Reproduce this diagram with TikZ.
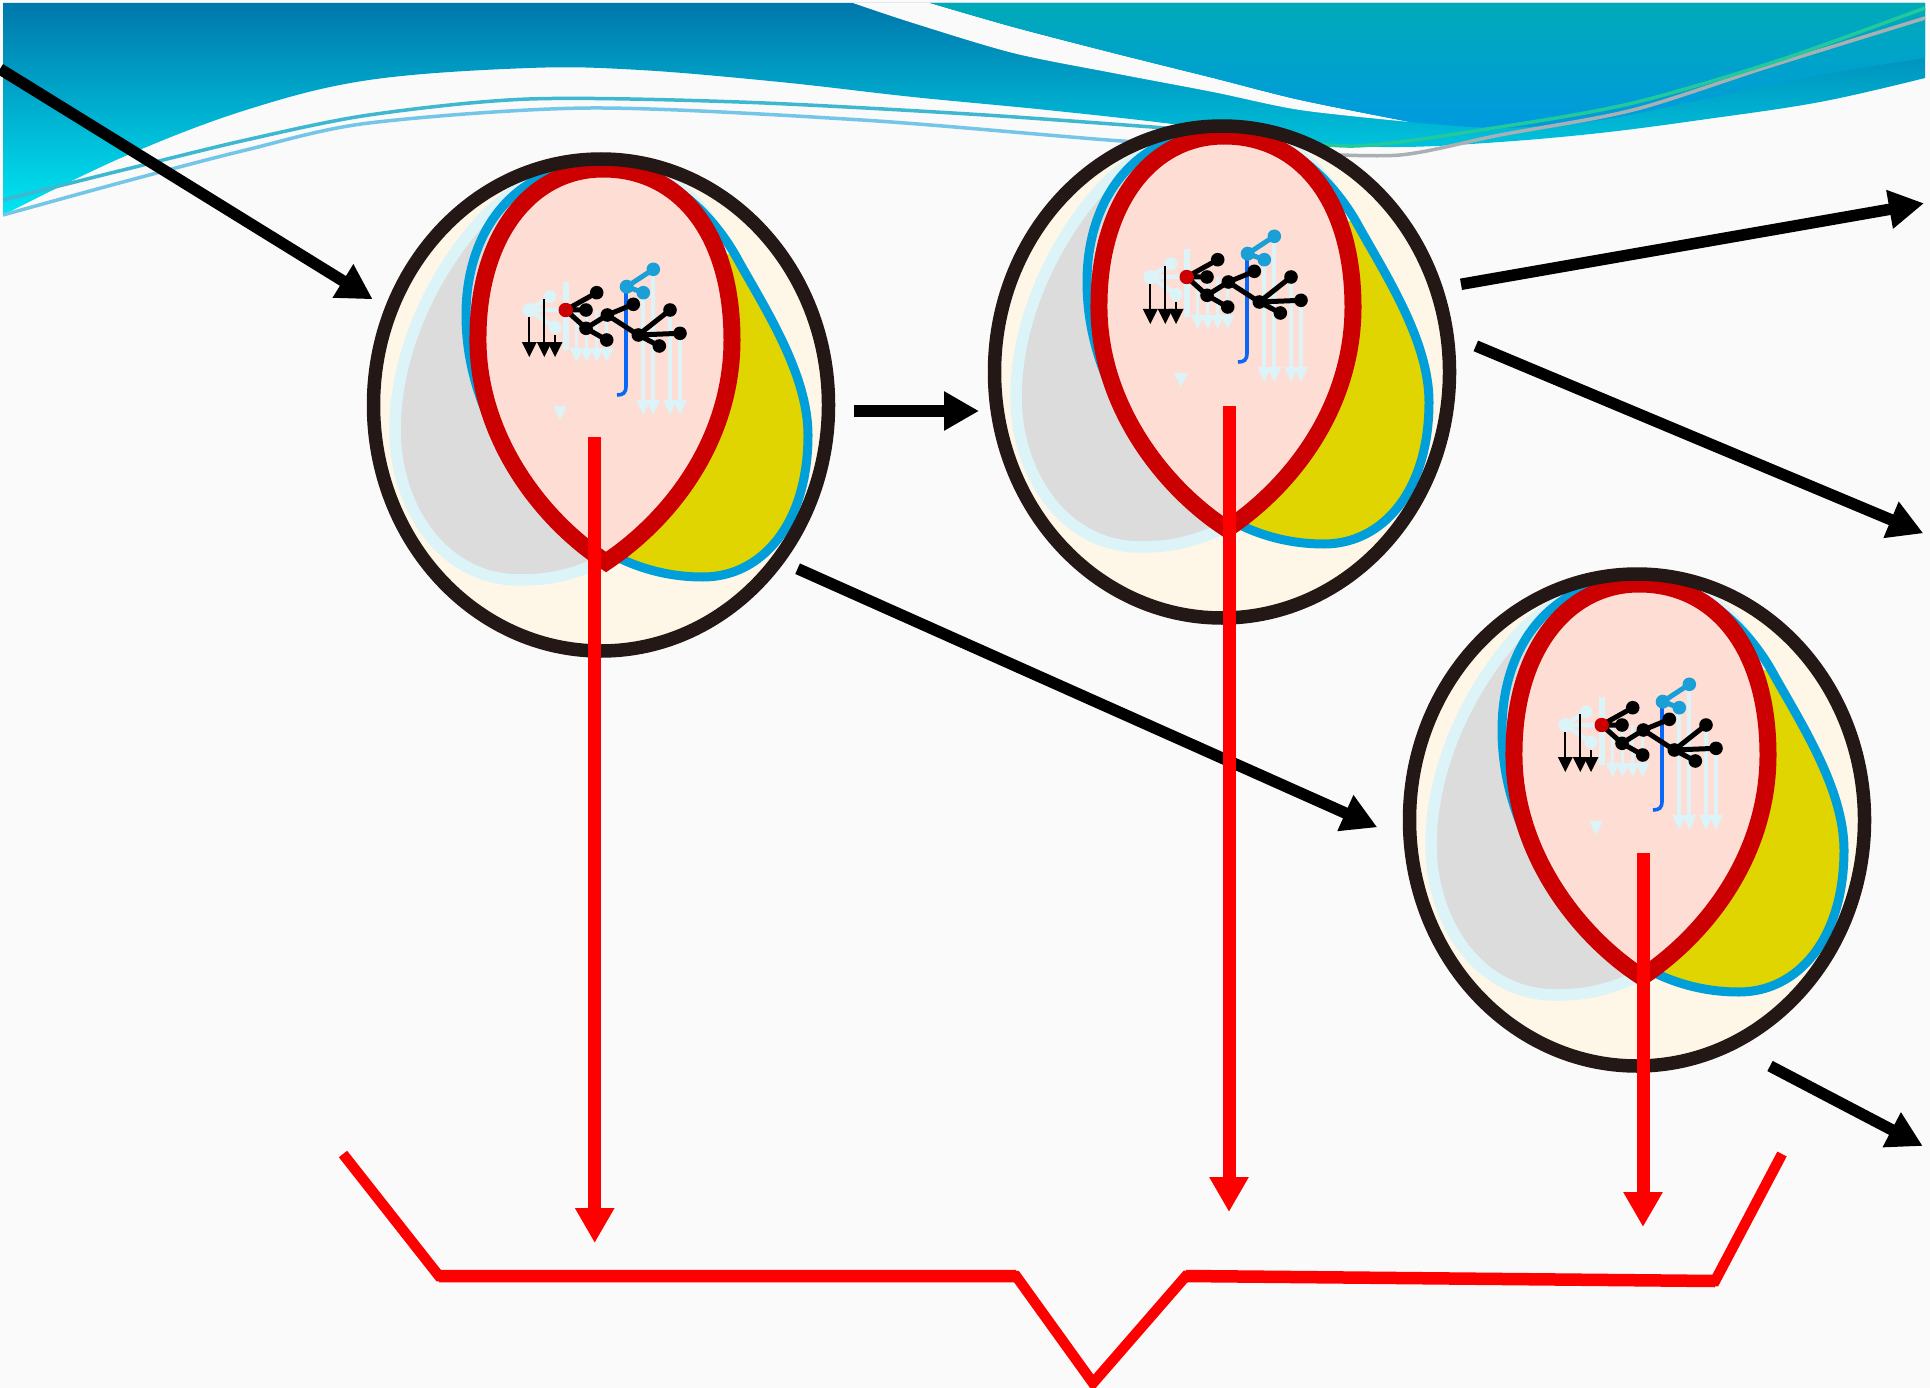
\documentclass[tikz,border=0pt]{standalone}
\usetikzlibrary{arrows.meta,shapes.geometric}

\definecolor{bg}{HTML}{FAFAFA}
\definecolor{bandtop}{HTML}{0077AB}
\definecolor{bandmid}{HTML}{00A8CC}
\definecolor{bandlow}{HTML}{00E6F3}
\definecolor{captop}{HTML}{00AAB8}
\definecolor{caplow}{HTML}{009ADF}
\definecolor{lineA}{HTML}{3DB8D0}
\definecolor{lineAg}{HTML}{22C99C}
\definecolor{lineB}{HTML}{74C6E8}
\definecolor{lineBg}{HTML}{A9AFB2}
\definecolor{ringc}{HTML}{231815}
\definecolor{cream}{HTML}{FEF7E8}
\definecolor{pale}{HTML}{DCF3F7}
\definecolor{grayfill}{HTML}{DCDCDC}
\definecolor{lobeyellow}{HTML}{E0D500}
\definecolor{lobeblue}{HTML}{009FD9}
\definecolor{lobered}{HTML}{CC0000}
\definecolor{pinkfill}{HTML}{FEDDD5}
\definecolor{jblue}{HTML}{0A66F5}
\definecolor{lightblue}{HTML}{1AA0D6}
\definecolor{arrowred}{HTML}{FF0000}

% outlines of the three lobes inside a cell, relative to the cell centre
\newcommand\lobeRedPath{(5,157) .. controls (-60,115) and (-125,30) .. (-123,-70)
  .. controls (-122,-170) and (-70,-236) .. (2,-236)
  .. controls (80,-236) and (131,-170) .. (131,-65)
  .. controls (131,30) and (75,110) .. (5,157) -- cycle}
\newcommand\lobeBluePath{(12,150) .. controls (-60,110) and (-135,20) .. (-135,-90)
  .. controls (-135,-180) and (-80,-242) .. (0,-240)
  .. controls (60,-240) and (110,-195) .. (137,-145)
  .. controls (165,-95) and (207,-30) .. (207,30)
  .. controls (207,120) and (160,172) .. (102,172)
  .. controls (65,172) and (35,162) .. (12,150) -- cycle}
\newcommand\lobeGrayPath{(0,157) .. controls (-30,170) and (-50,175) .. (-81,175)
  .. controls (-160,175) and (-206,100) .. (-206,25)
  .. controls (-206,-50) and (-170,-130) .. (-120,-185)
  .. controls (-85,-222) and (-45,-240) .. (2,-240)
  .. controls (85,-242) and (141,-172) .. (141,-65)
  .. controls (141,30) and (70,120) .. (0,157) -- cycle}

% the small branched molecule drawn in every cell
\newcommand\moleculeart{%
  \begin{scope}[pale]
    \draw[line width=4.5pt] (-71.7,-95) -- (-51,-108.3) (-71.7,-95) -- (-46,-77.7) (-71.7,-95) -- (-38,-95);
    \fill (-71.7,-95) circle[radius=7pt] (-51,-108.3) circle[radius=6.5pt] (-46,-77.7) circle[radius=6.5pt];
    \draw[line width=5.5pt] (-35,-123) -- (-35,-55);
    \foreach \u in {-24.3,-14.3,-4.3,5.7}{%
      \draw[line width=3.5pt] (\u,-95) -- (\u,-56);
      \fill (\u-7,-57) -- (\u+7,-57) -- (\u,-43) -- cycle;}
    \foreach \u/\v in {42.3/-110,52.3/-132,69/-95,79/-80}{%
      \draw[line width=4pt] (\u,\v) -- (\u,-4);
      \fill (\u-7,-5) -- (\u+7,-5) -- (\u,10) -- cycle;}
    \fill (-48,1) -- (-34,1) -- (-41,15) -- cycle;
  \end{scope}
  \draw[jblue, line width=3.6pt] (25,-118) -- (25,-19) .. controls (25,-12) and (22,-10) .. (16,-10);
  \foreach \u/\v in {-71.7/-88,-56.7/-106,-46/-70}{%
    \draw[black, line width=2.3pt] (\u,\v) -- (\u,-62);
    \fill[black] (\u-7.5,-63) -- (\u+7.5,-63) -- (\u,-48) -- cycle;}
  \draw[black, line width=5pt]
    (-35.3,-95) -- (-4.3,-112.3)
    (-35.3,-95) -- (-15,-95)
    (-35.3,-95) -- (-15,-76.7) -- (5.7,-65)
    (-15,-76.7) -- (6.3,-90) -- (32.3,-100.7)
    (6.3,-90) -- (37.3,-70) -- (69,-95)
    (37.3,-70) -- (79,-71.7)
    (37.3,-70) -- (58.3,-59);
  \foreach \x/\y in {-4.3/-112.3,-15/-95,-15/-76.7,5.7/-65,6.3/-90,32.3/-100.7,37.3/-70,69/-95,79/-71.7,58.3/-59}{%
    \fill[black] (\x,\y) circle[radius=6.8pt];}
  \draw[lightblue, line width=5pt] (42.3,-112.3) -- (25.7,-118.3) -- (52.3,-135.7);
  \fill[lightblue] (25.7,-118.3) circle[radius=7pt] (52.3,-135.7) circle[radius=6.8pt] (42.3,-112.3) circle[radius=6.8pt];
  \fill[lobered] (-35.3,-95) circle[radius=7.2pt];
}

\tikzset{
  ringnode/.style={ellipse, draw=ringc, line width=13.5pt, minimum width=455pt,
    minimum height=492pt, inner sep=0pt, outer sep=0pt},
  blackarrow/.style={draw=black, line width=11.5pt, -{Triangle[length=35pt,width=37pt]}},
  redarrow/.style={draw=arrowred, line width=13pt, -{Triangle[length=35pt,width=37pt]}},
  bracketline/.style={draw=arrowred, line width=10.5pt, line join=miter},
  cellart/.pic={
    \fill[cream] (0,0) ellipse [x radius=227.5pt, y radius=246pt];
    \path[fill=grayfill, draw=pale, line width=11.5pt] \lobeGrayPath;
    \begin{scope}
      \clip (-5,-150) rectangle (240,260);
      \fill[lobeyellow] \lobeBluePath;
    \end{scope}
    \draw[lobeblue, line width=9pt] \lobeBluePath;
    \path[fill=pinkfill, draw=lobered, line width=17pt, line join=miter] \lobeRedPath;
    \moleculeart
    \node[ringnode] (-ring) at (0,0) {};
  }
}

\begin{document}
\begin{tikzpicture}[x=1pt,y=-1pt]
\path[use as bounding box] (0,0) rectangle (1930,1388);
\fill[bg] (0,0) rectangle (1930,1388);

% header band
\shade[top color=bandtop, middle color=bandmid, bottom color=bandlow]
  (3,3) -- (1925,3) -- plot[smooth, tension=0.6] coordinates {(1925,78) (1820,102) (1700,120) (1600,133) (1500,142) (1400,147) (1300,143) (1180,125) (1047,110) (913,97) (780,82) (640,70) (529,68) (369,80) (246,110) (123,157) (3,215)} -- cycle;
\fill[bg] plot[smooth] coordinates {(853,3) (913,23) (1013,53) (1113,73) (1213,92) (1300,110) (1410,122)}
  -- plot[smooth] coordinates {(1410,122) (1300,100) (1213,78) (1113,53) (1013,27) (930,3)} -- cycle;
\shade[top color=captop, bottom color=caplow]
  (930,3) -- (1925,3) -- plot[smooth] coordinates {(1925,58) (1820,75) (1700,100) (1600,120) (1500,128) (1410,122)}
  -- plot[smooth] coordinates {(1410,122) (1300,100) (1213,78) (1113,53) (1013,27) (930,3)} -- cycle;
\draw[lineB, line width=3.5pt] plot[smooth] coordinates {(3,215) (123,182) (246,150) (369,123) (591,108) (862,120) (1108,140) (1300,153)};
\draw[lineBg, line width=3.5pt] plot[smooth] coordinates {(1300,153) (1400,155) (1500,135) (1633,110) (1767,67) (1925,18)};
\draw[lineA, line width=3.5pt] plot[smooth] coordinates {(3,200) (123,170) (246,140) (369,115) (529,99) (739,102) (985,115) (1231,133)};
\draw[lineAg, line width=3.5pt] plot[smooth] coordinates {(1231,133) (1354,146) (1500,127) (1633,103) (1780,60) (1925,8)};

% the three cells
\pic (c1) at (601,405) {cellart};
\pic (c2) at (1222,372) {cellart};
\pic (c3) at (1637,820) {cellart};

% black connectors
\coordinate (a1s) at (0,69);       \coordinate (a1e) at (372.7,299.3);
\coordinate (a2s) at (854,411);    \coordinate (a2e) at (979,411);
\coordinate (a3s) at (797.6,568.7);\coordinate (a3e) at (1377.3,827.3);
\coordinate (a4s) at (1461,284.3); \coordinate (a4e) at (1924,203.3);
\coordinate (a5s) at (1475.8,345.9);\coordinate (a5e) at (1923.3,533.3);
\coordinate (a6s) at (1770,1066);  \coordinate (a6e) at (1922.7,1146);
\draw[blackarrow] (a1s) -- (a1e);
\draw[blackarrow] (a2s) -- (a2e);
\draw[blackarrow] (a3s) -- (a3e);
\draw[blackarrow] (a4s) -- (a4e);
\draw[blackarrow] (a5s) -- (a5e);
\draw[blackarrow] (a6s) -- (a6e);

% red drops
\coordinate (r1s) at (594.7,437);  \coordinate (r1e) at (594.7,1243);
\coordinate (r2s) at (1229,406);   \coordinate (r2e) at (1229,1212);
\coordinate (r3s) at (1643,853);   \coordinate (r3e) at (1643,1227);
\draw[redarrow] (r1s) -- (r1e);
\draw[redarrow] (r2s) -- (r2e);
\draw[redarrow] (r3s) -- (r3e);

% collecting brace, its two long runs a little heavier
\coordinate (k1) at (343,1154);
\coordinate (k2) at (439,1276);
\coordinate (k3) at (1016,1276);
\coordinate (k4) at (1093,1383);
\coordinate (k5) at (1186,1276);
\coordinate (k6) at (1715,1281);
\coordinate (k7) at (1782,1154);
\draw[bracketline] (k1) -- (k2) -- (k3) -- (k4) -- (k5) -- (k6) -- (k7);
\draw[arrowred, line width=12.5pt] (k2) -- (k3) (k5) -- (k6);
\end{tikzpicture}
\end{document}
